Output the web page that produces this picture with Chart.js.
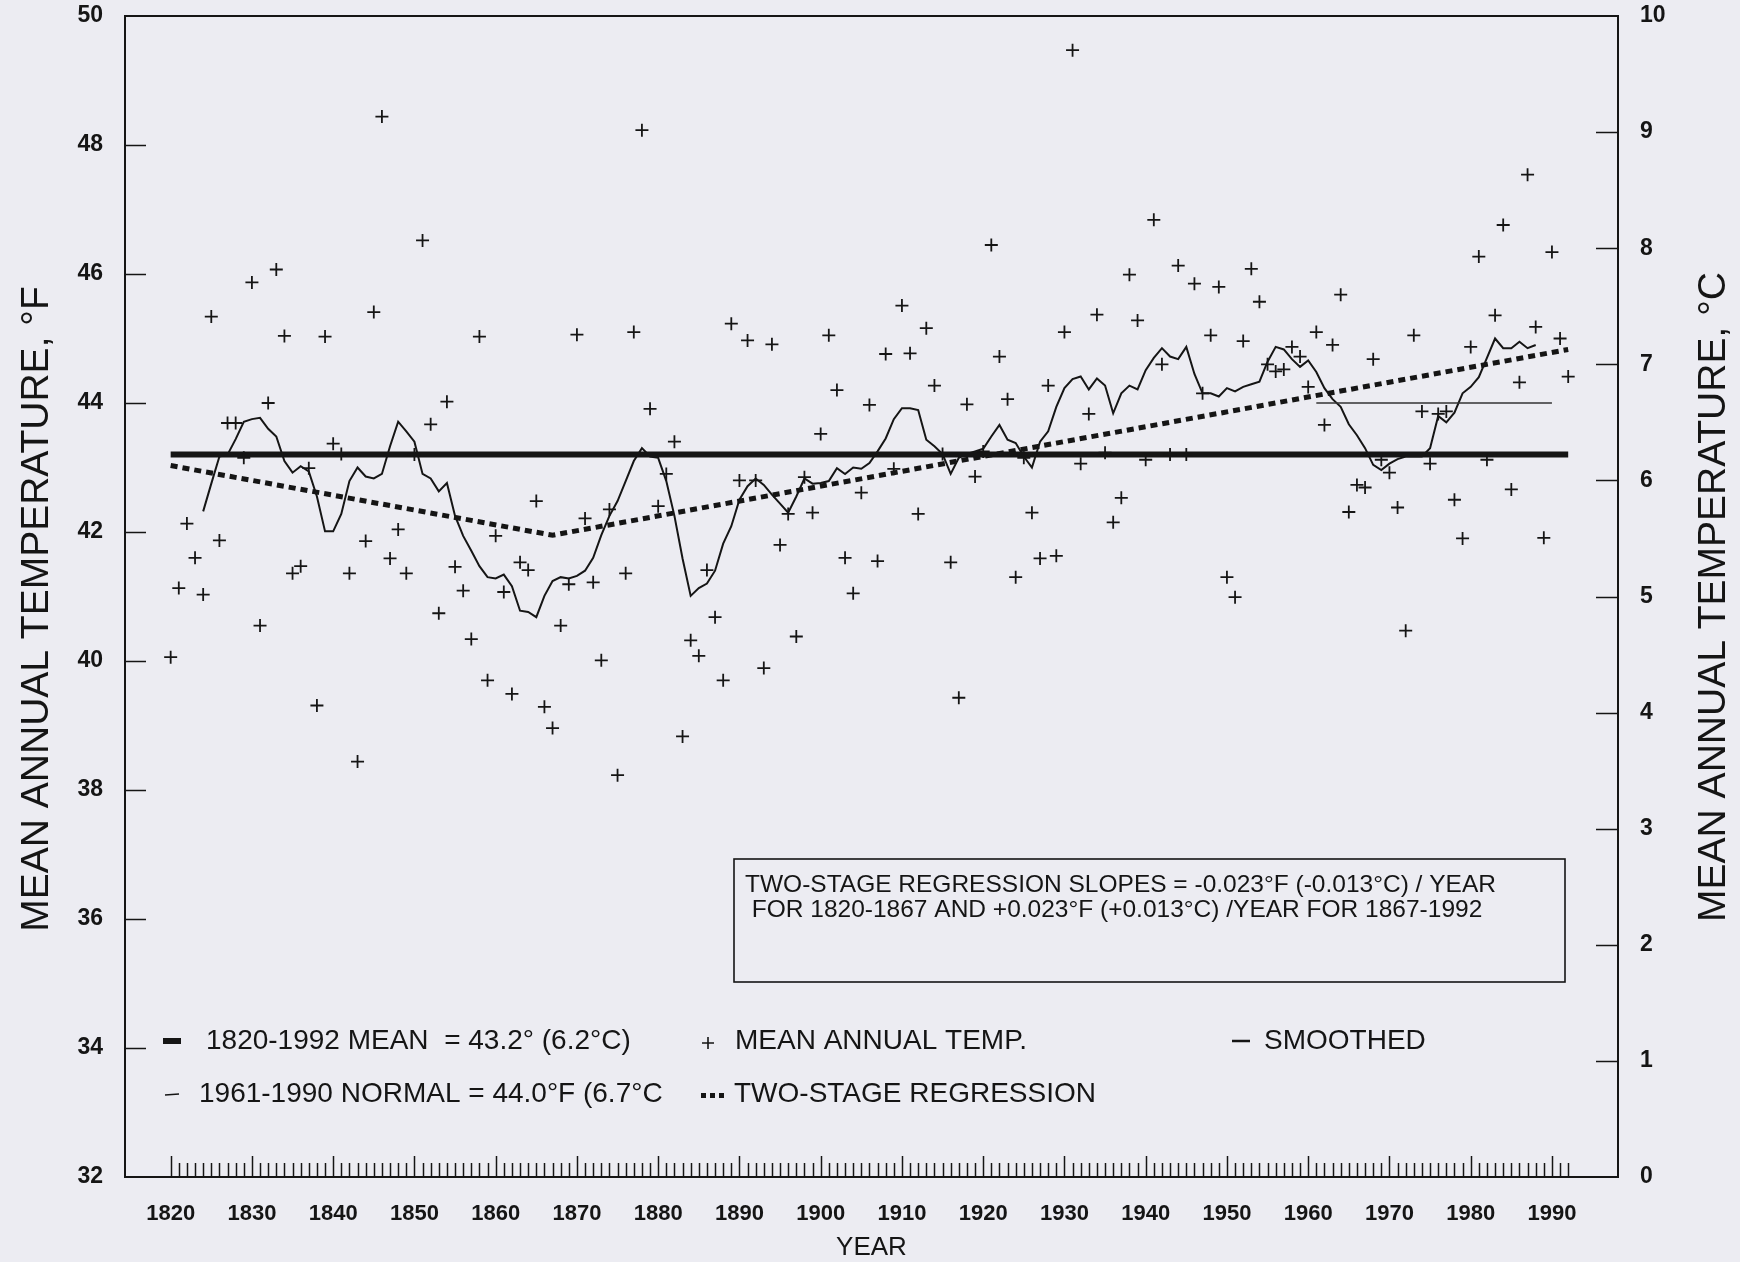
<!DOCTYPE html>
<html>
<head>
<meta charset="utf-8">
<script src="https://cdn.jsdelivr.net/npm/chart.js@4.4.1/dist/chart.umd.min.js"></script>
<style>
  html, body { margin: 0; padding: 0; background: #ececf2; }
  #wrap { width: 1740px; height: 1262px; position: relative; }
  canvas { display: block; }
</style>
</head>
<body>
<div id="wrap"><canvas id="chart" width="1740" height="1262"></canvas></div>
<script>
// ---- data -------------------------------------------------------------
const firstYear = 1820;
// mean annual temperature, °F, 1820-1992
const annualTempF = [
  40.06, 41.13, 42.13, 41.60, 41.03, 45.34, 41.87, 43.69, 43.69, 43.15,
  45.87, 40.55, 44.00, 46.07, 45.04, 41.36, 41.47, 42.99, 39.31, 45.03,
  43.37, 43.21, 41.36, 38.44, 41.86, 45.41, 48.44, 41.59, 42.04, 41.36,
  43.20, 46.52, 43.67, 40.74, 44.02, 41.46, 41.09, 40.34, 45.03, 39.70,
  41.94, 41.07, 39.49, 41.53, 41.41, 42.48, 39.29, 38.96, 40.55, 41.19,
  45.06, 42.21, 41.22, 40.01, 42.35, 38.23, 41.36, 45.10, 48.23, 43.91,
  42.40, 42.90, 43.40, 38.83, 40.32, 40.08, 41.41, 40.68, 39.70, 45.23,
  42.80, 44.97, 42.80, 39.89, 44.91, 41.80, 42.28, 40.38, 42.85, 42.30,
  43.52, 45.05, 44.20, 41.60, 41.05, 42.61, 43.97, 41.55, 44.76, 42.98,
  45.51, 44.77, 42.28, 45.16, 44.27, 43.21, 41.53, 39.43, 43.98, 42.86,
  43.25, 46.45, 44.72, 44.06, 41.30, 43.15, 42.30, 41.59, 44.27, 41.63,
  45.10, 49.47, 43.06, 43.83, 45.37, 43.23, 42.15, 42.53, 45.99, 45.28,
  43.12, 46.84, 44.60, 43.20, 46.13, 43.20, 45.85, 44.15, 45.05, 45.80,
  41.30, 40.99, 44.96, 46.08, 45.57, 44.60, 44.49, 44.52, 44.87, 44.72,
  44.25, 45.10, 43.66, 44.90, 45.68, 42.31, 42.73, 42.69, 44.68, 43.12,
  42.92, 42.38, 40.47, 45.05, 43.87, 43.06, 43.83, 43.87, 42.50, 41.90,
  44.87, 46.27, 43.12, 45.36, 46.76, 42.66, 44.32, 47.54, 45.18, 41.91,
  46.34, 45.00, 44.41
];

// smoothed series, °F, 1824-1988
const smoothStartYear = 1824;
const smoothedF = [
  42.32, 42.75, 43.17, 43.20, 43.44, 43.71, 43.75, 43.77, 43.60, 43.48,
  43.10, 42.92, 43.02, 42.94, 42.55, 42.01, 42.01, 42.28, 42.79, 43.00,
  42.86, 42.83, 42.90, 43.33, 43.71, 43.56, 43.40, 42.90, 42.83, 42.63,
  42.76, 42.25, 41.94, 41.71, 41.47, 41.30, 41.28, 41.34, 41.16, 40.78,
  40.76, 40.68, 41.01, 41.24, 41.30, 41.28, 41.32, 41.40, 41.60, 41.95,
  42.25, 42.48, 42.79, 43.10, 43.30, 43.17, 43.15, 42.79, 42.25, 41.59,
  41.01, 41.13, 41.20, 41.40, 41.82, 42.09, 42.50, 42.71, 42.83, 42.73,
  42.58, 42.44, 42.30, 42.55, 42.83, 42.75, 42.76, 42.79, 42.99, 42.90,
  43.00, 42.98, 43.07, 43.25, 43.45, 43.75, 43.92, 43.92, 43.89, 43.43,
  43.33, 43.21, 42.90, 43.15, 43.21, 43.25, 43.29, 43.48, 43.66, 43.43,
  43.38, 43.17, 43.00, 43.40, 43.56, 43.94, 44.23, 44.37, 44.41, 44.21,
  44.38, 44.27, 43.84, 44.15, 44.27, 44.21, 44.51, 44.70, 44.85, 44.72,
  44.68, 44.87, 44.45, 44.15, 44.15, 44.10, 44.23, 44.18, 44.25, 44.29,
  44.33, 44.64, 44.87, 44.83, 44.68, 44.56, 44.66, 44.48, 44.23, 44.06,
  43.94, 43.67, 43.50, 43.30, 43.04, 42.96, 43.06, 43.13, 43.17, 43.17,
  43.17, 43.30, 43.80, 43.70, 43.85, 44.15, 44.25, 44.40, 44.70, 45.00,
  44.85, 44.85, 44.95, 44.85, 44.90
];

const meanYears = [1820, 1992];
const meanF = 43.2;
const normalYears = [1961, 1990];
const normalF = 44.0;
const regressionYears = [1820, 1867, 1992];
const regressionF = [43.03, 41.95, 44.83];

const yearTicks = [1820, 1830, 1840, 1850, 1860, 1870, 1880, 1890, 1900,
                   1910, 1920, 1930, 1940, 1950, 1960, 1970, 1980, 1990];
const fahrenheitTicks = [32, 34, 36, 38, 40, 42, 44, 46, 48, 50];
const celsiusTicks = [0, 1, 2, 3, 4, 5, 6, 7, 8, 9, 10];

const legendRows = [
  ['1820-1992 MEAN  = 43.2° (6.2°C)', 'MEAN ANNUAL TEMP.', 'SMOOTHED'],
  ['1961-1990 NORMAL = 44.0°F (6.7°C', 'TWO-STAGE REGRESSION']
];
const noteLines = [
  'TWO-STAGE REGRESSION SLOPES = -0.023°F (-0.013°C) / YEAR',
  ' FOR 1820-1867 AND +0.023°F (+0.013°C) /YEAR FOR 1867-1992'
];

// ---- build point lists -----------------------------------------------
const annualPts = annualTempF.map((v, i) => ({ x: firstYear + i, y: v }));
const smoothPts = smoothedF.map((v, i) => ({ x: smoothStartYear + i, y: v }));
const meanPts = meanYears.map(x => ({ x, y: meanF }));
const normalPts = normalYears.map(x => ({ x, y: normalF }));
const regressionPts = regressionYears.map((x, i) => ({ x, y: regressionF[i] }));

const INK = '#151515';
const FONT = '"Liberation Sans", Arial, sans-serif';

// fixed plot frame: the axes' boxes are pinned so the frame sits where wanted
function pinVertical(width) {
  return function (scale) {
    scale.width = width;
    scale.paddingTop = 0;
    scale.paddingBottom = 0;
  };
}

// frame, inward tick marks, titles, legend and note box
const decorations = {
  id: 'decorations',
  afterDraw(chart) {
    const ctx = chart.ctx;
    const a = chart.chartArea;
    const xs = chart.scales.x, yf = chart.scales.y, yc = chart.scales.yc;
    ctx.save();
    ctx.strokeStyle = INK;
    ctx.fillStyle = INK;

    // frame
    ctx.lineWidth = 2;
    ctx.strokeRect(a.left, a.top, a.right - a.left, a.bottom - a.top);

    // year ticks
    ctx.lineWidth = 1.5;
    ctx.beginPath();
    for (let yr = meanYears[0]; yr <= meanYears[1]; yr++) {
      const px = Math.round(xs.getPixelForValue(yr)) + 0.5;
      const len = yr % 10 === 0 ? 21 : 14;
      ctx.moveTo(px, a.bottom);
      ctx.lineTo(px, a.bottom - len);
    }
    ctx.stroke();

    // °F ticks (left) and °C ticks (right)
    ctx.beginPath();
    fahrenheitTicks.slice(1, -1).forEach(v => {
      const py = Math.round(yf.getPixelForValue(v)) + 0.5;
      ctx.moveTo(a.left, py); ctx.lineTo(a.left + 21, py);
    });
    celsiusTicks.slice(1, -1).forEach(v => {
      const py = Math.round(yc.getPixelForValue(v)) + 0.5;
      ctx.moveTo(a.right, py); ctx.lineTo(a.right - 22, py);
    });
    ctx.stroke();

    // axis titles
    ctx.textAlign = 'center';
    ctx.textBaseline = 'middle';
    ctx.font = '39px ' + FONT;
    ctx.save();
    ctx.translate(37, 609);
    ctx.rotate(-Math.PI / 2);
    ctx.fillText('MEAN ANNUAL TEMPERATURE, °F', 0, 0);
    ctx.restore();
    ctx.save();
    ctx.translate(1714, 597);
    ctx.rotate(-Math.PI / 2);
    ctx.fillText('MEAN ANNUAL TEMPERATURE, °C', 0, 0);
    ctx.restore();
    ctx.font = '26px ' + FONT;
    ctx.fillText('YEAR', (a.left + a.right) / 2, 1248);

    // legend
    ctx.textAlign = 'left';
    ctx.font = '28px ' + FONT;
    const r1 = 1041, r2 = 1094;
    ctx.lineWidth = 6;
    ctx.beginPath(); ctx.moveTo(163, r1); ctx.lineTo(181, r1); ctx.stroke();
    ctx.fillText(legendRows[0][0], 206, r1);
    ctx.lineWidth = 1.6;
    ctx.beginPath();
    ctx.moveTo(702, r1 + 2); ctx.lineTo(714, r1 + 2);
    ctx.moveTo(708, r1 - 4); ctx.lineTo(708, r1 + 8);
    ctx.stroke();
    ctx.fillText(legendRows[0][1], 735, r1);
    ctx.lineWidth = 2.5;
    ctx.beginPath(); ctx.moveTo(1232, r1); ctx.lineTo(1250, r1); ctx.stroke();
    ctx.fillText(legendRows[0][2], 1264, r1);

    ctx.lineWidth = 1.4;
    ctx.beginPath(); ctx.moveTo(165, r2 + 1); ctx.lineTo(179, r2); ctx.stroke();
    ctx.fillText(legendRows[1][0], 199, r2);
    for (let i = 0; i < 3; i++) ctx.fillRect(701 + i * 9, r2 - 1, 5, 5);
    ctx.fillText(legendRows[1][1], 734, r2);

    // note box
    ctx.lineWidth = 1.6;
    ctx.strokeRect(734, 859, 831, 123);
    ctx.font = '24.5px ' + FONT;
    ctx.fillText(noteLines[0], 745, 885);
    ctx.fillText(noteLines[1], 745, 910);

    ctx.restore();
  }
};

new Chart(document.getElementById('chart'), {
  type: 'scatter',
  data: {
    datasets: [
      {
        label: 'MEAN ANNUAL TEMP.',
        data: annualPts,
        pointStyle: 'cross',
        pointRadius: 6.5,
        pointBorderWidth: 1.8,
        borderColor: INK,
        showLine: false
      },
      {
        label: '1820-1992 MEAN',
        data: meanPts,
        showLine: true,
        borderColor: INK,
        borderWidth: 6,
        pointRadius: 0,
        borderCapStyle: 'butt'
      },
      {
        label: '1961-1990 NORMAL',
        data: normalPts,
        showLine: true,
        borderColor: '#333',
        borderWidth: 1.4,
        pointRadius: 0
      },
      {
        label: 'TWO-STAGE REGRESSION',
        data: regressionPts,
        showLine: true,
        borderColor: INK,
        borderWidth: 5,
        borderDash: [7, 5],
        borderCapStyle: 'butt',
        pointRadius: 0
      },
      {
        label: 'SMOOTHED',
        data: smoothPts,
        showLine: true,
        borderColor: INK,
        borderWidth: 2,
        pointRadius: 0,
        tension: 0
      }
    ]
  },
  options: {
    responsive: false,
    animation: false,
    devicePixelRatio: 1,
    layout: { padding: { top: 16, left: 0, right: 0, bottom: 0 } },
    plugins: { legend: { display: false }, tooltip: { enabled: false } },
    scales: {
      x: {
        type: 'linear',
        position: 'bottom',
        min: 1814.38,
        max: 1998.13,
        afterBuildTicks(scale) { scale.ticks = yearTicks.map(v => ({ value: v })); },
        afterFit(scale) {
          scale.height = 85;
          scale.paddingLeft = 0;
          scale.paddingRight = 0;
        },
        grid: { display: false, drawTicks: false },
        border: { display: false },
        ticks: {
          autoSkip: false, maxRotation: 0, padding: 24,
          color: INK, font: { family: FONT, size: 22, weight: 'bold' },
          callback: v => String(v)
        }
      },
      y: {
        type: 'linear',
        position: 'left',
        min: 32,
        max: 50,
        afterBuildTicks(scale) { scale.ticks = fahrenheitTicks.map(v => ({ value: v })); },
        afterFit: pinVertical(125),
        grid: { display: false, drawTicks: false },
        border: { display: false },
        ticks: {
          padding: 22, color: INK,
          font: { family: FONT, size: 23, weight: 'bold' }
        }
      },
      yc: {
        type: 'linear',
        position: 'right',
        min: 0,
        max: 10,
        afterBuildTicks(scale) { scale.ticks = celsiusTicks.map(v => ({ value: v })); },
        afterFit: pinVertical(122),
        grid: { display: false, drawTicks: false },
        border: { display: false },
        ticks: {
          padding: 22, color: INK,
          font: { family: FONT, size: 23, weight: 'bold' }
        }
      }
    }
  },
  plugins: [decorations]
});
</script>
</body>
</html>
